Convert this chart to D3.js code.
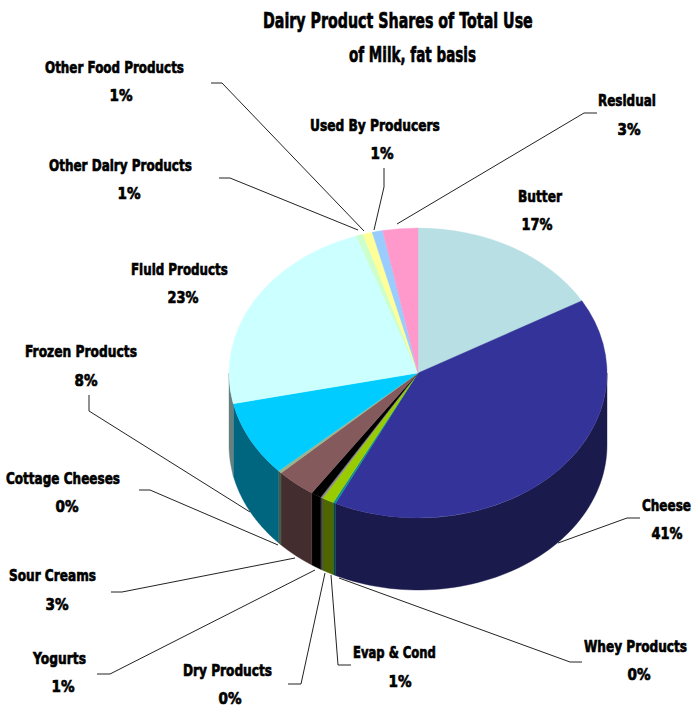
<!DOCTYPE html>
<html>
<head>
<meta charset="utf-8">
<title>Dairy Product Shares of Total Use of Milk, fat basis</title>
<script src="https://cdn.jsdelivr.net/npm/d3@7/dist/d3.min.js"></script>
<style>
  html, body { margin: 0; padding: 0; background: #fff; }
  svg { display: block; }
  text { font-family: "DejaVu Sans", Verdana, sans-serif; font-weight: bold; fill: #000; stroke: #000; stroke-width: 0.7px; }
</style>
</head>
<body>
<svg id="chart" width="694" height="708"></svg>
<script>
// Shares of total milk use, clockwise from twelve o'clock.
const categories = ["Butter", "Cheese", "Whey Products", "Evap & Cond", "Dry Products", "Yogurts",
  "Sour Creams", "Cottage Cheeses", "Frozen Products", "Fluid Products", "Other Dairy Products",
  "Other Food Products", "Used By Producers", "Residual"];
const shares = [16.7, 40.5, 0.2, 1.0, 0.2, 0.9, 3.4, 0.3, 8.4, 23.1, 0.6, 0.8, 0.9, 3.0];
const sliceColors = ["#B8E0E4", "#333399", "#0A9090", "#99CC00", "#8A8A8A", "#000000", "#855A5C",
  "#99B38C", "#00CCFF", "#CCFFFF", "#CCFFCC", "#FFFF99", "#99CCFF", "#FF99CC"];
const titleLines = ["Dairy Product Shares of Total Use", "of Milk, fat basis"];

// Label layout: [name left, name right, name baseline, percent centre, percent baseline, percent width].
const labelLayout = [
  [518, 562, 202, 537, 230, 31],
  [642, 691, 511, 667, 539, 31],
  [584, 687, 652, 639, 680, 23],
  [353, 436, 658, 400, 687, 23],
  [183, 272, 676, 230, 704, 23],
  [33, 86, 664, 63, 692, 23],
  [9, 96, 581, 57, 610, 23],
  [6, 120, 484, 67, 512, 23],
  [25, 137, 357, 86, 386, 23],
  [131, 228, 275, 183, 303, 31],
  [49, 192, 171, 129, 199, 23],
  [45, 184, 73, 121, 101, 23],
  [310, 440, 131, 382, 159, 23],
  [598, 656, 106, 629, 135, 23]
];
// Leader polylines from each label to its slice.
const leaderPaths = [
  null,
  [[640, 518], [627, 518], [558, 543]],
  [[582, 662], [570, 662], [339, 578]],
  [[351, 665], [338, 665], [331, 575]],
  [[288, 684], [301, 684], [325, 573]],
  [[97, 674], [110, 674], [315, 570]],
  [[111, 592], [122, 592], [295, 558]],
  [[139, 490], [150, 490], [278, 545]],
  [[89, 395], [89, 411], [250, 512]],
  null,
  [[219, 178], [230, 178], [358, 230]],
  [[211, 83], [222, 83], [364, 231]],
  [[384, 168], [384, 187], [374, 230]],
  [[597, 113], [584, 113], [397, 224]]
];

const cx = 418, cy = 373, rx = 189, ry = 145, depth = 72;
const svg = d3.select("#chart");

const pie = d3.pie().sort(null).value(d => d)(shares);
const arc = d3.arc().innerRadius(0).outerRadius(rx);
const line = d3.line();
const half = c => { const k = d3.rgb(c); return d3.rgb(k.r / 2, k.g / 2, k.b / 2).formatHex(); };
const rim = (a, dy) => [cx + rx * Math.sin(a), cy - ry * Math.cos(a) + dy];

// Outer walls: only the part of each slice on the near half of the ellipse shows.
const wallGroup = svg.append("g");
pie.forEach((p, i) => {
  const a0 = Math.max(p.startAngle, Math.PI / 2);
  const a1 = Math.min(p.endAngle, Math.PI * 1.5);
  if (a1 <= a0) return;
  const steps = d3.range(0, 61).map(t => a0 + (a1 - a0) * t / 60);
  const outline = steps.map(a => rim(a, 0)).concat(steps.slice().reverse().map(a => rim(a, depth)));
  wallGroup.append("path")
    .attr("d", line(outline) + "Z")
    .attr("fill", half(sliceColors[i]))
    .attr("stroke", half(sliceColors[i]))
    .attr("stroke-width", 0.4);
});

// Top face: flat pie squashed into an ellipse.
svg.append("g")
  .attr("transform", `translate(${cx},${cy}) scale(1,${ry / rx})`)
  .selectAll("path")
  .data(pie)
  .join("path")
  .attr("d", arc)
  .attr("fill", (d, i) => sliceColors[i])
  .attr("stroke", (d, i) => sliceColors[i])
  .attr("stroke-width", 0.4);

// Leader lines.
svg.append("g")
  .selectAll("path")
  .data(leaderPaths.filter(Boolean))
  .join("path")
  .attr("d", d => line(d))
  .attr("fill", "none")
  .attr("stroke", "#222")
  .attr("stroke-width", 1);

// Places a text so that it runs from x0 to x1, narrowing the glyphs horizontally.
function fitText(group, str, x0, x1, y) {
  const t = group.append("text").text(str);
  const natural = t.node().getComputedTextLength();
  t.attr("transform", `translate(${x0},${y}) scale(${(x1 - x0) / natural},1)`);
}

// Slice labels: name above, rounded percentage below.
const labels = svg.append("g").attr("font-size", 16);
categories.forEach((name, i) => {
  const [x0, x1, y0, pc, y1, pw] = labelLayout[i];
  fitText(labels, name, x0, x1, y0);
  fitText(labels, Math.round(shares[i]) + "%", pc - pw / 2, pc + pw / 2, y1);
});

// Two-line title.
const titleGroup = svg.append("g").attr("font-size", 22);
[[263, 533, 28], [349, 476, 62]].forEach(([x0, x1, y], i) => {
  fitText(titleGroup, titleLines[i], x0, x1, y);
});
</script>
</body>
</html>
